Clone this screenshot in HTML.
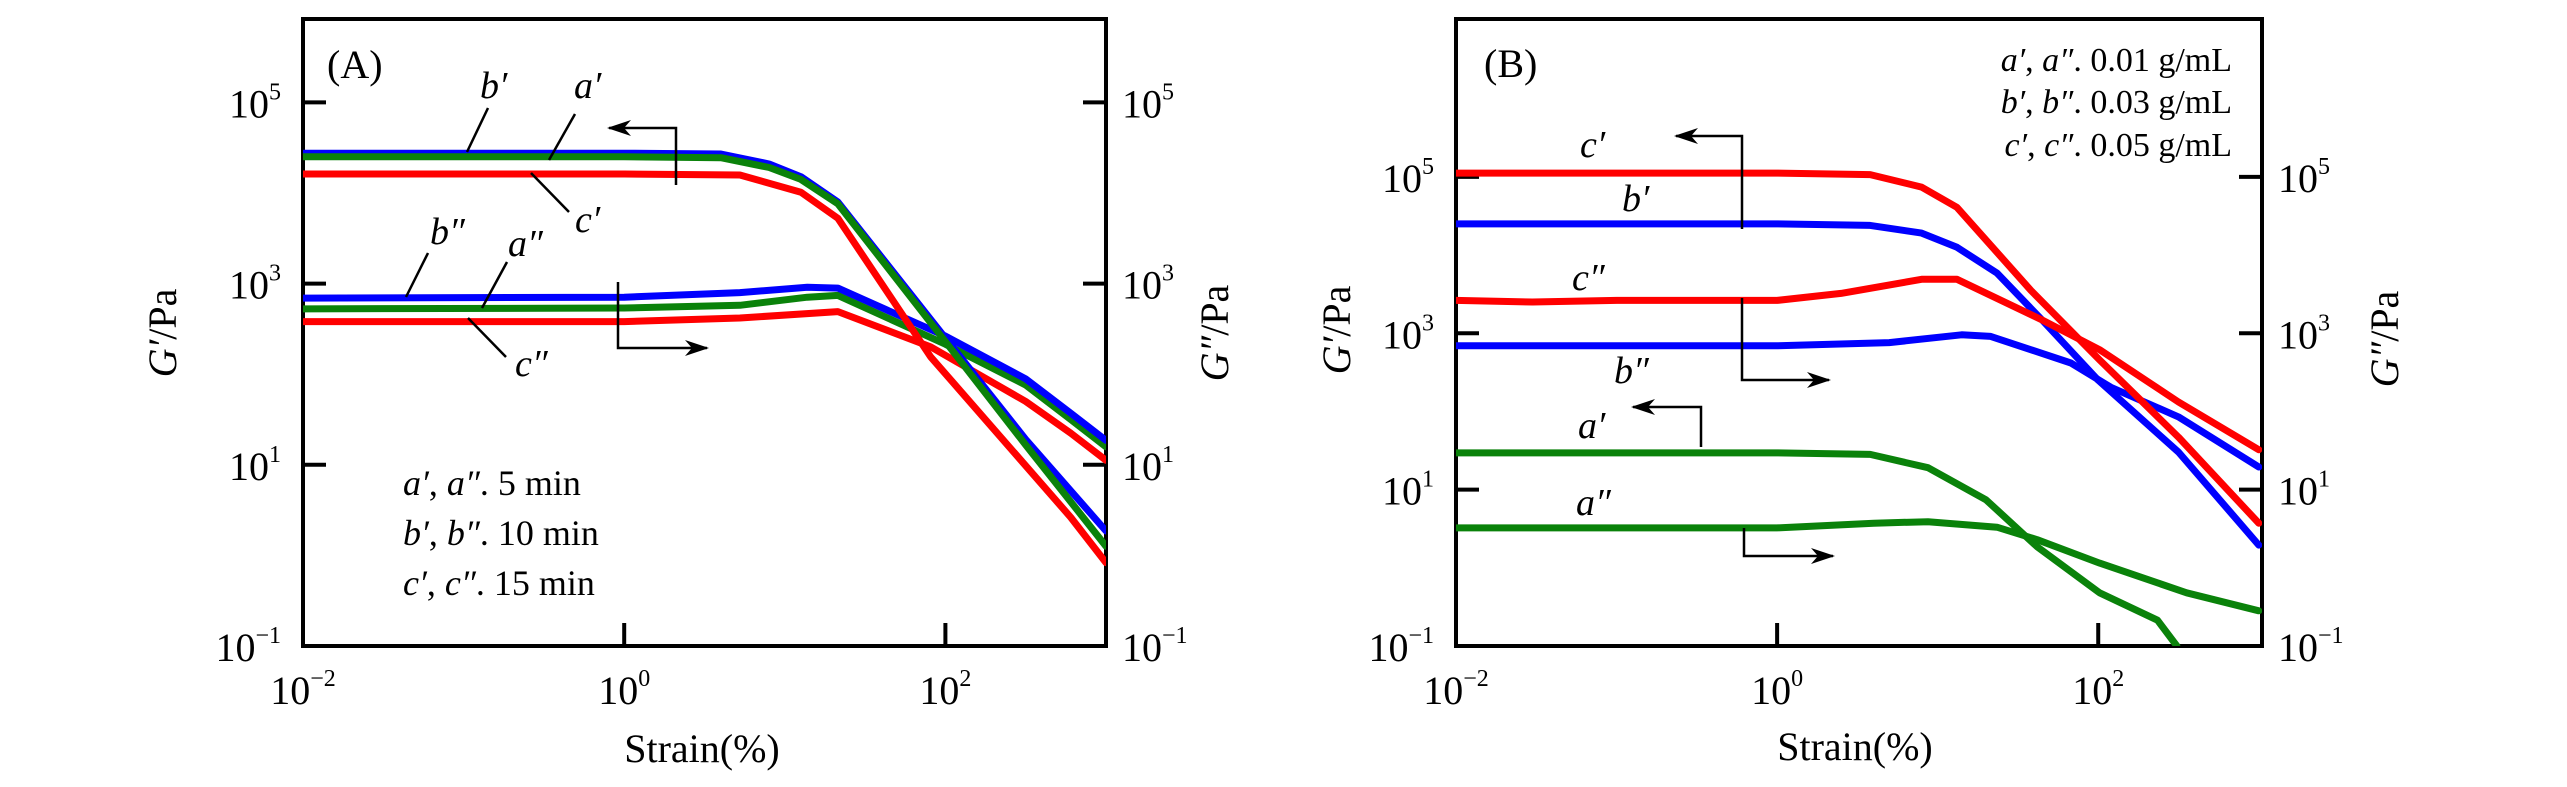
<!DOCTYPE html>
<html><head><meta charset="utf-8"><style>
html,body{margin:0;padding:0;background:#fff;}
svg{display:block;font-family:"Liberation Serif",serif;}
.t{font-size:40px;fill:#000}
.it{font-style:italic;font-size:36px;fill:#000}
</style></head><body>
<svg id="chart" width="2567" height="787" viewBox="0 0 2567 787">
<defs>
<clipPath id="clipA"><rect x="303" y="19" width="803" height="627"/></clipPath>
<clipPath id="clipB"><rect x="1456" y="19" width="806" height="627"/></clipPath>
</defs>
<g id="panelA"></g>
<g id="panelB"></g>
</svg>
<script>
// ---- Panel A data (strain %, modulus Pa) ----
const aStrainBp=[0.01,1,4,8,12.6,21.4,100,316,1000];
const aGBp=[27500,27500,26900,20900,15100,7940,251,19.1,1.86];
const aStrainAp=[0.01,1,4,8,12.6,21.4,100,316,1000];
const aGAp=[25100,25100,24500,19100,14100,7590,229,16.6,1.26];
const aStrainCp=[0.01,1,5.25,12.6,21.4,81,603,1000];
const aGCp=[16200,16200,15800,10200,5250,155,2.63,0.83];
const aStrainBpp=[0.01,1,5.25,13.8,21.4,100,316,603,1000];
const aGBpp=[692,708,794,912,891,263,89,37.2,18.6];
const aStrainApp=[0.01,1,5.25,13.8,21.4,100,316,603,1000];
const aGApp=[525,537,575,708,741,214,75.9,31.6,15.8];
const aStrainCpp=[0.01,1,5.25,21.4,81,316,603,1000];
const aGCpp=[380,380,417,490,200,50.1,22.4,11.2];
// ---- Panel B data ----
const bStrainCp=[0.01,1,3.8,7.94,13.2,38,102,316,1000];
const bGCp=[112000,112000,107000,74100,40700,3550,457,46.8,3.72];
const bStrainBp=[0.01,1,3.8,7.94,13.2,23.4,44.7,100,316,1000];
const bGBp=[25100,25100,24000,19100,12600,5890,1480,251,30.2,1.95];
const bStrainCpp=[0.01,0.03,0.1,1,2.5,7.94,13.2,44.7,102,316,1000];
const bGCpp=[2630,2510,2630,2630,3240,4900,4900,1480,617,132,32.4];
const bStrainBpp=[0.01,1,5,14.1,21.4,67.6,120,316,1000];
const bGBpp=[692,692,759,955,912,417,204,85.1,19.5];
const bStrainAp=[0.01,1,3.8,8.7,20,41.7,102,234,309];
const bGAp=[29.5,29.5,28.2,19.1,7.41,1.86,0.479,0.214,0.1];
const bStrainApp=[0.01,1,4,8.7,23.4,41.7,102,355,1000];
const bGApp=[3.24,3.24,3.72,3.89,3.31,2.29,1.15,0.479,0.282];
// tick exponents
const xTickExp=[-2,0,2];
const yTickExpA=[-1,1,3,5];
const yTickExpB=[-1,1,3,5];

const NS="http://www.w3.org/2000/svg";
function mk(parent,tag,attrs,text){const e=document.createElementNS(NS,tag);for(const k in attrs)e.setAttribute(k,attrs[k]);if(text!==undefined)e.textContent=text;parent.appendChild(e);return e;}

function panel(g,o){
  const xs=v=>o.x0+(Math.log10(v)-o.xmin)/(o.xmax-o.xmin)*(o.x1-o.x0);
  const ys=v=>o.yb-(Math.log10(v)-o.ymin)/(o.ymax-o.ymin)*(o.yb-o.yt);
  const fr=mk(g,'rect',{x:o.x0,y:o.yt,width:o.x1-o.x0,height:o.yb-o.yt,fill:'none',stroke:'#000','stroke-width':4});
  
  
  xTickExp.forEach(e=>{
    const x=xs(Math.pow(10,e));
    const tk=mk(g,'line',{x1:x,x2:x,y1:o.yb,y2:o.yb-23,stroke:'#000','stroke-width':4});
    
    
    const t=mk(g,'text',{x:x,y:o.yb+58,'text-anchor':'middle',class:'t'});
    
    
    t.textContent='10';
    mk(t,'tspan',{dy:-18,'font-size':24},e<0?'\u2212'+(-e):String(e));
  });
  o.yticks.forEach(e=>{
    const y=ys(Math.pow(10,e));
    if(e>o.ymin){
      const tl=mk(g,'line',{x1:o.x0,x2:o.x0+23,y1:y,y2:y,stroke:'#000','stroke-width':4});
      
      
      const tr=mk(g,'line',{x1:o.x1,x2:o.x1-23,y1:y,y2:y,stroke:'#000','stroke-width':4});
      
      
    }
    const l=mk(g,'text',{x:o.x0-22,y:y+15,'text-anchor':'end',class:'t'});
    
    
    l.textContent='10';
    mk(l,'tspan',{dy:-18,'font-size':24},e<0?'\u2212'+(-e):String(e));
    const r=mk(g,'text',{x:o.x1+16,y:y+15,'text-anchor':'start',class:'t'});
    
    
    r.textContent='10';
    mk(r,'tspan',{dy:-18,'font-size':24},e<0?'\u2212'+(-e):String(e));
  });
  const sg=mk(g,'g',{'clip-path':'url(#'+o.clip+')'});
  o.series.forEach(s=>{
    const pts=s.x.map((v,i)=>xs(v).toFixed(1)+','+ys(s.y[i]).toFixed(1)).join(' ');
    const p=mk(sg,'polyline',{points:pts,fill:'none',stroke:s.c,'stroke-width':7,'stroke-linejoin':'round','stroke-linecap':'round'});
    
    
  });
}
const R='#ff0000',B='#0000ff',G='#0a820a';
panel(document.getElementById('panelA'),{x0:303,x1:1106,yt:19,yb:646,xmin:-2,xmax:3,ymin:-1,ymax:5.92,clip:'clipA',yticks:yTickExpA,
 series:[
  {x:aStrainCpp,y:aGCpp,c:R,n:'series-c-double-prime'},
  {x:aStrainApp,y:aGApp,c:G,n:'series-a-double-prime'},
  {x:aStrainBpp,y:aGBpp,c:B,n:'series-b-double-prime'},
  {x:aStrainCp,y:aGCp,c:R,n:'series-c-prime'},
  {x:aStrainBp,y:aGBp,c:B,n:'series-b-prime'},
  {x:aStrainAp,y:aGAp,c:G,n:'series-a-prime'}]});
panel(document.getElementById('panelB'),{x0:1456,x1:2262,yt:19,yb:646,xmin:-2,xmax:3.02,ymin:-1,ymax:7.02,clip:'clipB',yticks:yTickExpB,
 series:[
  {x:bStrainAp,y:bGAp,c:G,n:'series-a-prime'},
  {x:bStrainApp,y:bGApp,c:G,n:'series-a-double-prime'},
  {x:bStrainBpp,y:bGBpp,c:B,n:'series-b-double-prime'},
  {x:bStrainBp,y:bGBp,c:B,n:'series-b-prime'},
  {x:bStrainCpp,y:bGCpp,c:R,n:'series-c-double-prime'},
  {x:bStrainCp,y:bGCp,c:R,n:'series-c-prime'}]});
</script>
<svg width="2567" height="787" viewBox="0 0 2567 787" style="position:absolute;left:0;top:0;font-family:'Liberation Serif',serif">
<defs><marker id="ah" markerWidth="24" markerHeight="16" refX="22" refY="8" orient="auto" markerUnits="userSpaceOnUse"><path d="M0,0 L24,8 L0,16 L7,8 Z" fill="#000" stroke="none"/></marker></defs>
<g font-size="40">
<text x="176" y="333" text-anchor="middle" transform="rotate(-90 176 333)"><tspan font-style="italic">G′</tspan>/Pa</text>
<text x="1228" y="333" text-anchor="middle" transform="rotate(-90 1228 333)"><tspan font-style="italic">G″</tspan>/Pa</text>
<text x="1350" y="330" text-anchor="middle" transform="rotate(-90 1350 330)"><tspan font-style="italic">G′</tspan>/Pa</text>
<text x="2398" y="339" text-anchor="middle" transform="rotate(-90 2398 339)"><tspan font-style="italic">G″</tspan>/Pa</text>
<text x="702" y="762" text-anchor="middle">Strain(%)</text>
<text x="1855" y="760" text-anchor="middle">Strain(%)</text>
<text x="327" y="78">(A)</text>
<text x="1484" y="77">(B)</text>
</g>
<g font-size="36">
<text x="403" y="495"><tspan font-style="italic">a′</tspan>, <tspan font-style="italic">a″</tspan>. 5 min</text>
<text x="403" y="545"><tspan font-style="italic">b′</tspan>, <tspan font-style="italic">b″</tspan>. 10 min</text>
<text x="403" y="595"><tspan font-style="italic">c′</tspan>, <tspan font-style="italic">c″</tspan>. 15 min</text>
</g>
<g font-size="34" text-anchor="end">
<text x="2232" y="71"><tspan font-style="italic">a′</tspan>, <tspan font-style="italic">a″</tspan>. 0.01 g/mL</text>
<text x="2232" y="113"><tspan font-style="italic">b′</tspan>, <tspan font-style="italic">b″</tspan>. 0.03 g/mL</text>
<text x="2232" y="156"><tspan font-style="italic">c′</tspan>, <tspan font-style="italic">c″</tspan>. 0.05 g/mL</text>
</g>
<g font-size="38" font-style="italic">
<text x="480" y="98">b′</text><text x="574" y="98">a′</text><text x="575" y="232">c′</text>
<text x="430" y="244">b″</text><text x="508" y="256">a″</text><text x="515" y="376">c″</text>
</g>
<g stroke="#000" stroke-width="2.5">
<line x1="488" y1="108" x2="467" y2="152"/><line x1="575" y1="114" x2="549" y2="160"/><line x1="531" y1="173" x2="569" y2="212"/>
<line x1="428" y1="253" x2="406" y2="297"/><line x1="507" y1="262" x2="482" y2="308"/><line x1="468" y1="318" x2="506" y2="357"/>
</g>
<g font-size="38" font-style="italic">
<text x="1580" y="157">c′</text><text x="1622" y="211">b′</text><text x="1572" y="290">c″</text><text x="1614" y="383">b″</text>
<text x="1578" y="438">a′</text><text x="1576" y="515">a″</text>
</g>
<g stroke="#000" stroke-width="2.5" fill="none">
<polyline points="676,185 676,128 609,128" marker-end="url(#ah)"/>
<polyline points="618,282 618,348 707,348" marker-end="url(#ah)"/>
<polyline points="1742,229 1742,136 1676,136" marker-end="url(#ah)"/>
<polyline points="1742,298 1742,380 1829,380" marker-end="url(#ah)"/>
<polyline points="1701,447 1701,407 1633,407" marker-end="url(#ah)"/>
<polyline points="1744,528 1744,556 1833,556" marker-end="url(#ah)"/>
</g>
</svg>
</body></html>
